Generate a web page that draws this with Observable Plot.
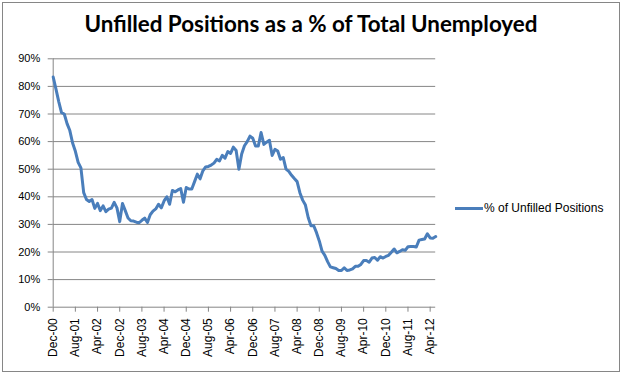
<!DOCTYPE html>
<html>
<head>
<meta charset="utf-8">
<script src="https://cdn.jsdelivr.net/npm/d3@7"></script>
<script src="https://cdn.jsdelivr.net/npm/@observablehq/plot@0.6"></script>
<style>
  body { margin: 0; background: #fff; }
  #wrap { position: relative; width: 628px; height: 376px; overflow: hidden; background: #fff;
          font-family: "Liberation Sans", Arial, sans-serif; }
  #border { position: absolute; left: 2px; top: 2px; width: 616px; height: 368px; border: 1px solid #868686; }
  #title { position: absolute; left: 0; top: 12px; width: 622px; text-align: center;
           font-family: Lato, "Open Sans", sans-serif; font-weight: bold; font-size: 22.4px; line-height: 24px; color: #000; }
  #plot { position: absolute; left: 0; top: 45px; }
  #legend { position: absolute; left: 455px; top: 200px; height: 16px; display: flex; align-items: center;
            font-size: 12px; color: #000; white-space: nowrap; }
  #legend .swatch { width: 28px; height: 3px; background: #4a7ebb; margin-right: 1px; }
</style>
</head>
<body>
<div id="wrap">
  <div id="border"></div>
  <div id="title">Unfilled Positions as a % of Total Unemployed</div>
  <div id="plot"></div>
  <div id="legend"><div class="swatch"></div><span>% of Unfilled Positions</span></div>
</div>
<script>
// Monthly categories Dec-00 .. Jun-12
const months = d3.utcMonth
  .range(new Date(Date.UTC(2000, 11, 1)), new Date(Date.UTC(2012, 6, 1)))
  .map(d3.utcFormat("%b-%y"));

// % of unfilled positions
const unfilledPct = [
  83.4, 79, 74.5, 70.5, 70, 66.5, 64, 59.5, 56.5, 52.5,
  50.5, 41.5, 39, 38.3, 39, 35.8, 37.6, 35, 36.7, 34.6,
  35.5, 35.9, 38, 36, 31, 37.6, 35, 32.3, 31.3, 31.2,
  30.8, 30.6, 31.5, 32.3, 30.7, 33.5, 34.8, 35.6, 37.3, 36,
  38.5, 40, 37.3, 42.3, 41.8, 42.5, 43, 38, 43.4, 42.8,
  42.8, 45.5, 48.2, 46.5, 49.4, 50.8, 51, 51.5, 52.2, 53.6,
  53, 55, 54, 56.4, 55.7, 58, 56.8, 50, 55.5, 58.5,
  60, 62, 61.2, 58.4, 58.4, 63.3, 59, 59.8, 60.5, 55,
  57.2, 56.6, 53.6, 54.2, 50, 49.2, 47.8, 46.6, 45.5, 41.5,
  38.8, 37, 32.5, 29.5, 29.5, 27, 24, 20.3, 18.8, 16.5,
  14.6, 14.3, 14, 13.3, 13.3, 14.3, 13.3, 13.5, 13.9, 14.8,
  14.8, 15.5, 16.9, 16.9, 16.3, 17.8, 18, 17, 18.3, 17.8,
  18.4, 18.8, 19.9, 21.1, 19.7, 20.2, 20.8, 20.6, 21.9, 22,
  22, 21.8, 24.3, 24.5, 24.7, 26.6, 25.1, 25, 25.6
];

const xTickLabels = ["Dec-00", "Aug-01", "Apr-02", "Dec-02", "Aug-03", "Apr-04", "Dec-04", "Aug-05", "Apr-06",
                     "Dec-06", "Aug-07", "Apr-08", "Dec-08", "Aug-09", "Apr-10", "Dec-10", "Aug-11", "Apr-12"];
const yTicks = [0, 10, 20, 30, 40, 50, 60, 70, 80, 90];

const data = unfilledPct.map((v, i) => ({month: months[i], value: v}));
const gray = "#868686";

const chart = Plot.plot({
  width: 628,
  height: 325,
  marginLeft: 52.7,
  marginRight: 192.8,
  marginTop: 13.3,
  marginBottom: 63.3,
  style: {fontFamily: '"Liberation Sans", Arial, sans-serif', fontSize: "12px", color: "#000", background: "transparent", overflow: "visible"},
  x: {type: "point", domain: months, padding: 0},
  y: {domain: [0, 90]},
  marks: [
    Plot.ruleY(yTicks, {stroke: gray, strokeWidth: 1}),
    Plot.ruleX([months[0]], {stroke: gray, strokeWidth: 1}),
    Plot.axisY({ticks: yTicks, tickFormat: d => d + "%", tickSize: 5, tickPadding: 8, stroke: gray, fill: "#000", fontSize: 11, label: null}),
    Plot.axisX({ticks: xTickLabels, tickSize: 5, tickPadding: 6, tickRotate: -90, stroke: gray, fill: "#000", fontSize: 12, label: null}),
    Plot.lineY(data, {x: "month", y: "value", stroke: "#4a7ebb", strokeWidth: 3, strokeLinejoin: "round", strokeLinecap: "round"})
  ]
});
document.getElementById("plot").appendChild(chart);
</script>
</body>
</html>
